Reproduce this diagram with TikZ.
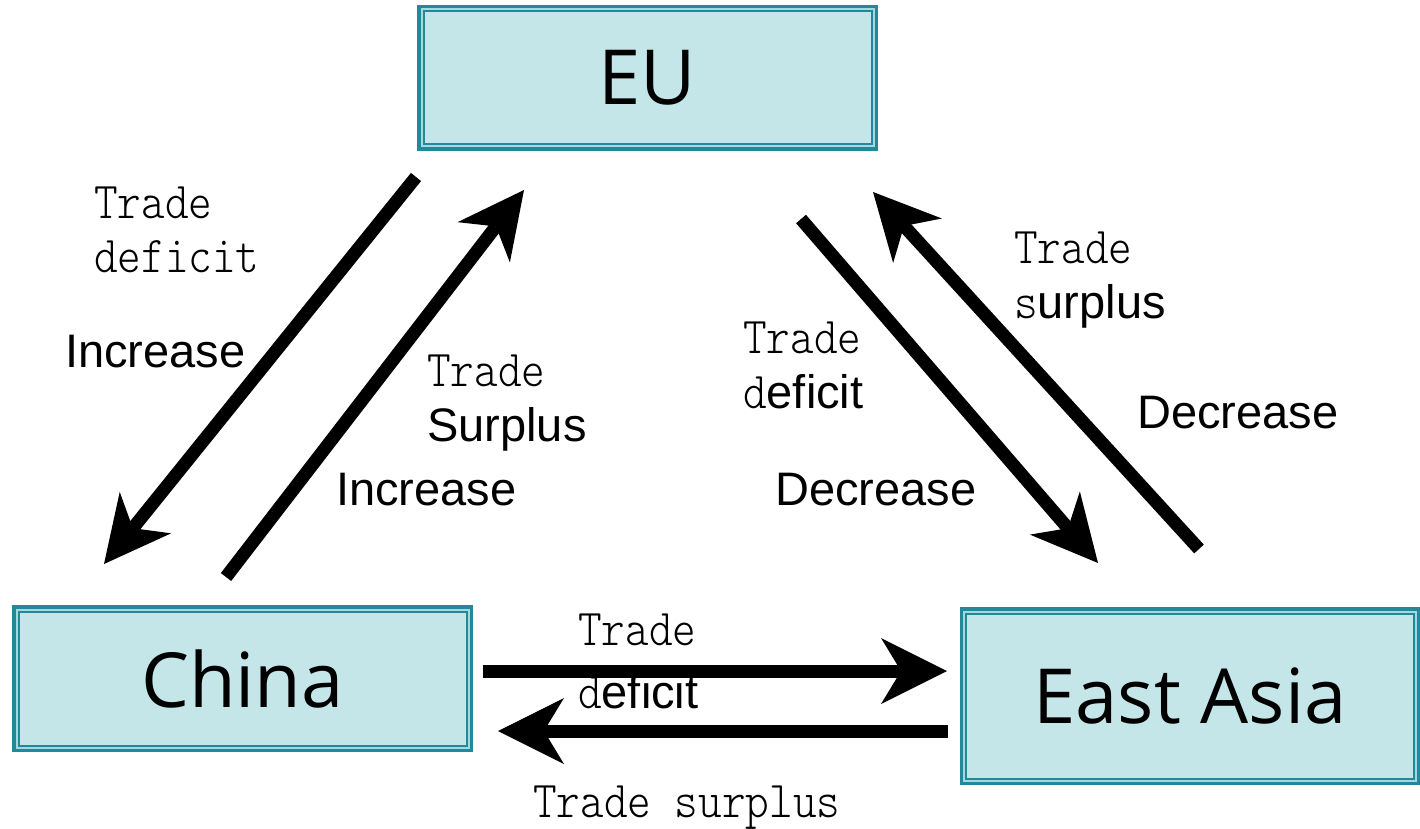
\documentclass[tikz,border=0pt]{standalone}
\usepackage{fontspec}
\usepackage{graphicx}
\usetikzlibrary{positioning,arrows.meta}

\newfontfamily\boxfont{Open Sans}
\newfontfamily\arialfont{Liberation Sans}
\newfontfamily\thinmono{lmmonolt10-regular.otf}
\newcommand{\monotxt}[1]{\scalebox{1}[1.15]{\thinmono\fontsize{45}{50}\selectfont #1}}
\newcommand{\sanstxt}[1]{{\arialfont\fontsize{47}{52}\selectfont #1}}

\definecolor{boxline}{RGB}{34,137,155}
\definecolor{boxfill}{RGB}{196,230,232}
\definecolor{gapline}{RGB}{165,216,222}

\begin{document}
\begin{tikzpicture}[x=1pt, y=-1pt,
    region/.style={rectangle, draw=boxline, line width=7pt, fill=boxfill, inner sep=0pt,
        minimum width=454pt, font=\boxfont\fontsize{76}{80}\selectfont},
    flow/.style={line width=13pt, -{Stealth[length=66pt, width=66pt, inset=20pt, line width=0pt]}},
    lbl/.style={inner sep=0pt, anchor=base west}]

    \useasboundingbox (0,0) rectangle (1420,829);

    % the three regions
    \node[region, minimum height=139pt] (eu) at (647.5,78) {EU};
    \node[region, minimum height=140pt] (china) at (242.5,678.5) {China};
    \node[region, minimum height=171pt] (eastasia) at (1190,696) {East Asia};

    \foreach \n in {eu,china,eastasia} {
        \draw[gapline, line width=2pt] ([shift={(4.5,4.5)}]\n.north west) rectangle ([shift={(-4.5,-4.5)}]\n.south east);
        \draw[boxline, line width=2pt] ([shift={(6.5,6.5)}]\n.north west) rectangle ([shift={(-6.5,-6.5)}]\n.south east);
    }

    % arrow ends
    \coordinate (eu1) at (416,177);
    \coordinate (ch1) at (104,564);
    \coordinate (ch2) at (226,577);
    \coordinate (eu2) at (524,190);
    \coordinate (eu3) at (801,219);
    \coordinate (ea3) at (1098,563);
    \coordinate (ea4) at (1199,549);
    \coordinate (eu4) at (873,192);
    \coordinate (ch5) at (483,671);
    \coordinate (ea5) at (947,671);
    \coordinate (ea6) at (948,731);
    \coordinate (ch6) at (498,731);

    \draw[flow] (eu1) -- (ch1);
    \draw[flow] (ch2) -- (eu2);
    \draw[flow] (eu3) -- (ea3);
    \draw[flow] (ea4) -- (eu4);
    \draw[flow] (ch5) -- (ea5);
    \draw[flow] (ea6) -- (ch6);

    % labels
    \node[lbl] (t1) at (94,218) {\monotxt{Trade}};
    \node[lbl] (d1) at ([yshift=-54pt]t1.base west) {\monotxt{deficit}};
    \node[lbl] (inc1) at (65,367) {\sanstxt{Increase}};

    \node[lbl] (t2) at (427,386) {\monotxt{Trade}};
    \node[lbl] (s2) at (427,441) {\sanstxt{Surplus}};
    \node[lbl] (inc2) at (336,505) {\sanstxt{Increase}};

    \node[lbl] (t3) at (743,353) {\monotxt{Trade}};
    \node[lbl] (d3) at (743,408) {\monotxt{d}\sanstxt{eficit}};
    \node[lbl] (dec3) at (775,505) {\sanstxt{Decrease}};

    \node[lbl] (t4) at (1014,263) {\monotxt{Trade}};
    \node[lbl] (s4) at (1014,318) {\monotxt{s}\sanstxt{urplus}};
    \node[lbl] (dec4) at (1137,428) {\sanstxt{Decrease}};

    \node[lbl] (t5) at (578,645) {\monotxt{Trade}};
    \node[lbl] (d5) at (578,708) {\monotxt{d}\sanstxt{eficit}};
    \node[lbl] (t6) at (533,817) {\monotxt{Trade surplus}};

\end{tikzpicture}
\end{document}
